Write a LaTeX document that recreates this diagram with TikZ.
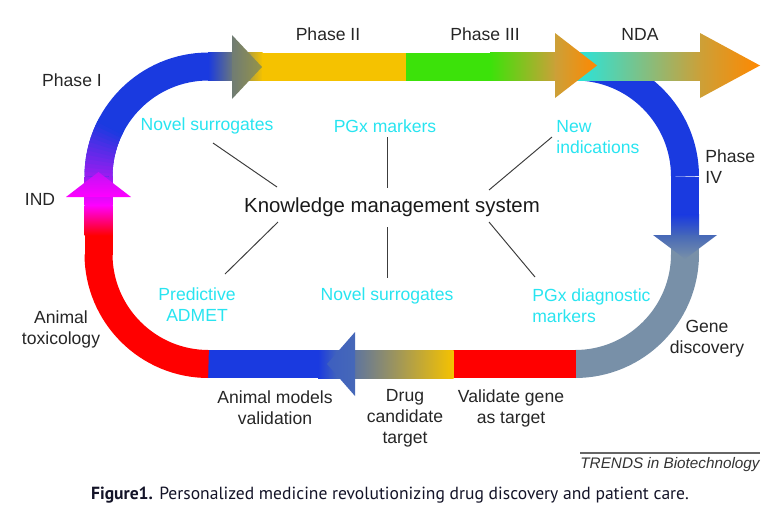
\documentclass[tikz,border=0pt]{standalone}
\usepackage{fontspec}
\setmainfont{Liberation Sans}
\newfontfamily\capfont{PT Sans}
\usetikzlibrary{positioning}

\begin{document}
\begin{tikzpicture}[
    x=0.02cm, y=-0.02cm,
    % Styles
    band/.style={line width=0.56cm},
    stage/.style={
        font=\fontsize{10}{12}\selectfont, text=black!85,
        align=center, inner sep=0pt
    },
    idea/.style={
        font=\fontsize{10}{12}\selectfont, text=labelcyan,
        align=center, inner sep=0pt
    },
    spoke/.style={draw=spokegray, line width=0.55pt},
]
% Define colors
\definecolor{bandblue}{RGB}{26,58,224}
\definecolor{bandred}{RGB}{255,0,0}
\definecolor{bandmagenta}{RGB}{255,0,255}
\definecolor{bandpurple}{RGB}{150,30,240}
\definecolor{bandgray}{RGB}{112,124,116}
\definecolor{bandolive}{RGB}{150,148,70}
\definecolor{bandyellow}{RGB}{245,194,0}
\definecolor{bandgreen}{RGB}{60,226,10}
\definecolor{bandgold}{RGB}{204,160,56}
\definecolor{bandorange}{RGB}{255,136,0}
\definecolor{bandcyan}{RGB}{32,232,228}
\definecolor{bandsteel}{RGB}{70,104,184}
\definecolor{bandslate}{RGB}{120,144,168}
\definecolor{labelcyan}{RGB}{40,228,240}
\definecolor{spokegray}{RGB}{60,60,60}
\definecolor{captionink}{RGB}{20,20,40}

\useasboundingbox (0,0) rectangle (776,518);

% Phase IV arc (under the top band)
\draw[band, bandblue] (575,66.5) arc[start angle=270, end angle=360, radius=110];

% Right side
\fill[bandblue] (671,176.5) rectangle (699,215);
\shade[top color=bandblue, bottom color=bandsteel] (671,214.5) rectangle (699,236);
\fill[bandslate] (671,235.5) rectangle (699,254.5);
\draw[band, bandslate] (685,254) arc[start angle=0, end angle=90, radius=110];

% Bottom band
\fill[bandred] (453,350) rectangle (575.5,378);
\shade[left color=bandsteel, right color=bandyellow] (338,350) rectangle (453.5,378);
\shade[left color=bandblue, right color=bandsteel] (318,350) rectangle (338.5,378);
\fill[bandblue] (208,350) rectangle (318.5,378);
\draw[band, bandred] (208.5,364) arc[start angle=90, end angle=180, radius=110];

% Left side
\fill[bandred] (84.5,235) rectangle (112.5,254.5);
\shade[top color=bandmagenta, bottom color=bandred] (84.5,205) rectangle (112.5,235.5);
\shade[top color=bandpurple, bottom color=bandmagenta] (84.5,176.5) rectangle (112.5,205.5);

% Phase I arc
\draw[band, bandblue] (98.5,176.5) arc[start angle=180, end angle=270, radius=110];
\foreach \a in {180,182,...,206} {
    \pgfmathtruncatemacro\mix{min(100,(\a-180)*4)}
    \draw[band, bandblue!\mix!bandpurple] (208.5,176.5) ++(\a:110)
        arc[start angle=\a, delta angle=2.5, radius=110];
}

% Top band
\shade[left color=bandblue, right color=bandgray] (208,52.5) rectangle (234.5,80.5);
\shade[left color=bandgray, right color=bandyellow] (234,52.5) rectangle (262.5,80.5);
\fill[bandyellow] (262,52.5) rectangle (406.5,80.5);
\fill[bandgreen] (406,52.5) rectangle (490.5,80.5);
\shade[left color=bandgreen, right color=bandgold] (490,52.5) rectangle (556,80.5);
\shade[left color=bandcyan, right color=bandgold] (570,52.5) rectangle (701,80.5);

% Arrow heads
\shade[left color=bandgray, right color=bandolive] (232,35) -- (262,67) -- (232,99) -- cycle;
\shade[left color=bandgold, right color=bandorange] (555,33) -- (597,65.5) -- (555,98) -- cycle;
\shade[left color=bandgold, right color=bandorange] (700,33) -- (760,65.5) -- (700,98) -- cycle;
\shade[top color=bandsteel, bottom color=bandslate] (653,235) -- (685,259) -- (717,235) -- cycle;
\shade[left color=bandsteel!80!bandblue, right color=bandsteel] (355,332) -- (327,364) -- (355,396) -- cycle;
\shade[top color=bandpurple!60!bandmagenta, bottom color=bandmagenta] (66,197) -- (98.5,172) -- (131,197) -- cycle;

% Stage labels
\node[stage] (phase1) at (72,80) {Phase I};
\node[stage] (phase2) at (328,34) {Phase II};
\node[stage] (phase3) at (485,34) {Phase III};
\node[stage] (nda) at (640,34) {NDA};
\node[stage, align=left, anchor=west] (phase4) at (705,167) {Phase\\IV};
\node[stage] (ind) at (40,199) {IND};
\node[stage] (tox) at (61,329) {Animal\\toxicology};
\node[stage] (models) at (275,408) {Animal models\\validation};
\node[stage] (drug) at (405,418) {Drug\\candidate\\target};
\node[stage] (validate) at (511,408) {Validate gene\\as target};
\node[stage] (gene) at (707,339) {Gene\\discovery};

% Knowledge management system and its ideas
\node[font=\fontsize{11.6}{14}\selectfont, text=black!90, inner sep=0pt] (kms) at (392,207) {Knowledge management system};
\node[idea] (surrA) at (207,126) {Novel surrogates};
\node[idea] (pgx) at (385,126) {PGx markers};
\node[idea, align=left, anchor=west] (newind) at (556,137) {New\\indications};
\node[idea] (admet) at (197,305) {Predictive\\ADMET};
\node[idea] (surrB) at (387,296) {Novel surrogates};
\node[idea, align=left, anchor=west] (pgxdx) at (532,306) {PGx diagnostic\\markers};

% Spoke ends
\coordinate (surrA-end) at (213,143);
\coordinate (kms-a) at (277,187);
\coordinate (pgx-end) at (387,137);
\coordinate (kms-b) at (387,188);
\coordinate (newind-end) at (552,137);
\coordinate (kms-c) at (489,190);
\coordinate (kms-d) at (278,222);
\coordinate (admet-end) at (225,274);
\coordinate (kms-e) at (387,227);
\coordinate (surrB-end) at (387,278);
\coordinate (kms-f) at (489,222);
\coordinate (pgxdx-end) at (535,277);

% Spokes
\draw[spoke] (surrA-end) -- (kms-a);
\draw[spoke] (pgx-end) -- (kms-b);
\draw[spoke] (newind-end) -- (kms-c);
\draw[spoke] (kms-d) -- (admet-end);
\draw[spoke] (kms-e) -- (surrB-end);
\draw[spoke] (kms-f) -- (pgxdx-end);

% Source line
\coordinate (rule-l) at (580,453);
\coordinate (rule-r) at (760,453);
\draw[black!60, line width=0.6pt] (rule-l) -- (rule-r);
\node[font=\itshape\fontsize{8.7}{10}\selectfont, text=black!80, anchor=east, inner sep=0pt] (trends) at (760,465) {TRENDS in Biotechnology};

% Caption
\node[font=\capfont\fontsize{10}{12}\selectfont, text=captionink, inner sep=0pt] (caption) at (390,495)
    {\textbf{Figure1.} Personalized medicine revolutionizing drug discovery and patient care.};

\end{tikzpicture}
\end{document}
